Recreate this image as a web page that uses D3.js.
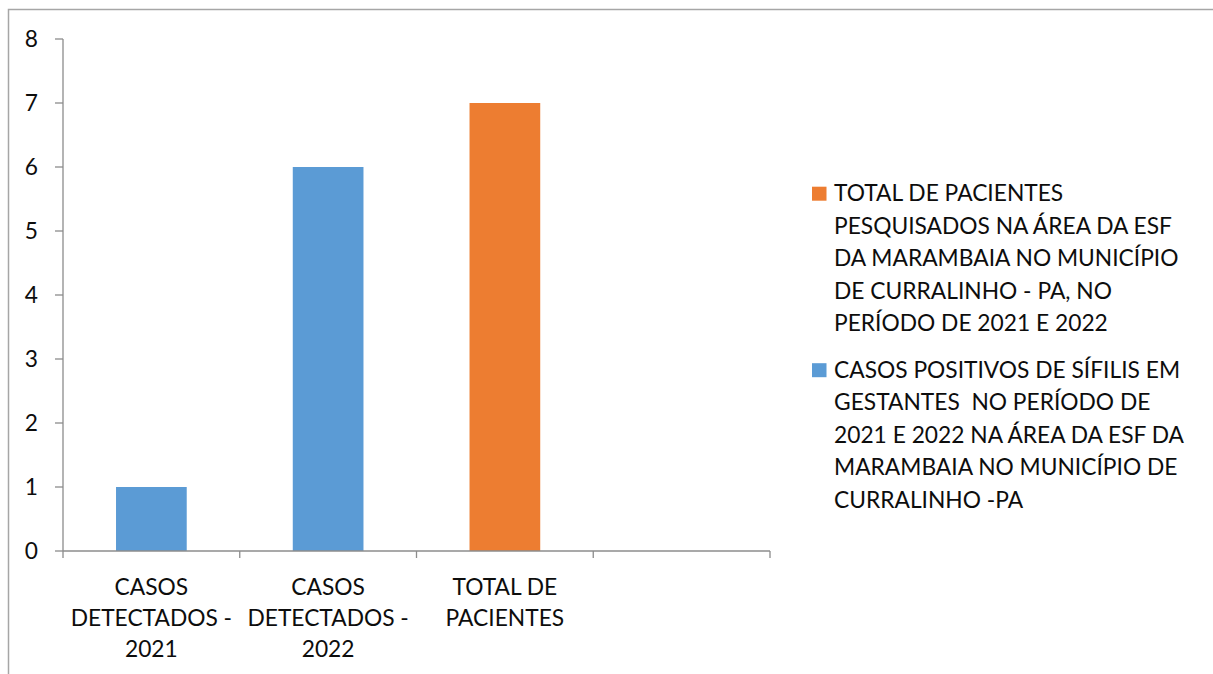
<!DOCTYPE html>
<html>
<head>
<meta charset="utf-8">
<script src="https://cdn.jsdelivr.net/npm/d3@7"></script>
<style>
  html, body { margin: 0; padding: 0; background: #fff; }
  svg { display: block; }
  text { font-family: Lato, "Open Sans", sans-serif; fill: #0d0d0d; white-space: pre; }
</style>
</head>
<body>
<svg id="chart" width="1213" height="674"></svg>
<script>
// ---- data ----
const categories = ["CASOS DETECTADOS - 2021", "CASOS DETECTADOS - 2022", "TOTAL DE PACIENTES", ""];
const categoryLabelLines = [
  ["CASOS", "DETECTADOS -", "2021"],
  ["CASOS", "DETECTADOS -", "2022"],
  ["TOTAL DE", "PACIENTES"],
  []
];
const values = [1, 6, 7, null];
const valueSeries = [1, 1, 0, null];   // index into seriesNames
const seriesNames = [
  "TOTAL DE PACIENTES PESQUISADOS NA ÁREA DA ESF DA MARAMBAIA NO MUNICÍPIO DE CURRALINHO - PA, NO PERÍODO DE 2021 E 2022",
  "CASOS POSITIVOS DE SÍFILIS EM GESTANTES  NO PERÍODO DE 2021 E 2022 NA ÁREA DA ESF DA MARAMBAIA NO MUNICÍPIO DE CURRALINHO -PA"
];
const seriesLegendLines = [
  ["TOTAL DE PACIENTES", "PESQUISADOS NA ÁREA DA ESF", "DA MARAMBAIA NO MUNICÍPIO", "DE CURRALINHO - PA, NO", "PERÍODO DE 2021 E 2022"],
  ["CASOS POSITIVOS DE SÍFILIS EM", "GESTANTES  NO PERÍODO DE", "2021 E 2022 NA ÁREA DA ESF DA", "MARAMBAIA NO MUNICÍPIO DE", "CURRALINHO -PA"]
];
const seriesColors = ["#ED7D31", "#5B9BD5"];
const yTicks = [0, 1, 2, 3, 4, 5, 6, 7, 8];

// ---- layout ----
const svg = d3.select("#chart");
const axisColor = "#8C8C8C";
const plot = { left: 63, right: 770, top: 39, bottom: 551 };

// font: match Calibri cap height, then compress horizontally to match Calibri widths
const capTarget = 16.7;
const fs = capTarget / 0.7165;
const probe = svg.append("text").attr("font-size", fs).text("PESQUISADOS NA ÁREA DA ESF");
const w = probe.node().getComputedTextLength();
probe.remove();
const kx = 338 / w;

function label(g, x0, y0, txt, anchor) {
  return g.append("text")
    .attr("transform", `translate(${x0},${y0}) scale(${kx},1)`)
    .attr("text-anchor", anchor || "start")
    .attr("font-size", fs)
    .text(txt);
}

// background + frame
svg.append("rect").attr("x", 0).attr("y", 0).attr("width", 1213).attr("height", 674).attr("fill", "#fff");
svg.append("rect").attr("x", 8.5).attr("y", 9.5).attr("width", 1220).attr("height", 700)
  .attr("fill", "none").attr("stroke", "#A6A6A6").attr("stroke-width", 1.5);

const y = d3.scaleLinear().domain([0, 8]).range([plot.bottom, plot.top]);
const x = d3.scaleBand().domain(categories.map((d, i) => i)).range([plot.left, plot.right])
  .paddingInner(0.6).paddingOuter(0.3);
const xb = d3.scaleLinear().domain([0, categories.length]).range([plot.left, plot.right]);

// bars
svg.append("g").selectAll("rect")
  .data(values.map((v, i) => ({ v, i, s: valueSeries[i] })).filter(d => d.v !== null))
  .join("rect")
  .attr("x", d => x(d.i))
  .attr("width", x.bandwidth())
  .attr("y", d => y(d.v))
  .attr("height", d => y(0) - y(d.v))
  .attr("fill", d => seriesColors[d.s]);

// y axis
const gy = svg.append("g");
gy.append("line").attr("x1", plot.left).attr("x2", plot.left)
  .attr("y1", y(8)).attr("y2", y(0)).attr("stroke", axisColor).attr("stroke-width", 1.3);
gy.selectAll("line.tick").data(yTicks).join("line").attr("class", "tick")
  .attr("x1", plot.left - 8).attr("x2", plot.left).attr("y1", d => y(d)).attr("y2", d => y(d))
  .attr("stroke", axisColor).attr("stroke-width", 1.3);
yTicks.forEach(t => label(gy, 38, y(t) + capTarget / 2, String(t), "end"));

// x axis
const gx = svg.append("g");
gx.append("line").attr("x1", plot.left).attr("x2", plot.right)
  .attr("y1", y(0)).attr("y2", y(0)).attr("stroke", axisColor).attr("stroke-width", 1.3);
gx.selectAll("line.tick").data(d3.range(categories.length + 1)).join("line").attr("class", "tick")
  .attr("x1", d => xb(d)).attr("x2", d => xb(d)).attr("y1", y(0)).attr("y2", y(0) + 7)
  .attr("stroke", axisColor).attr("stroke-width", 1.3);
categoryLabelLines.forEach((lines, i) => {
  const cx = x(i) + x.bandwidth() / 2;
  lines.forEach((ln, j) => label(gx, cx, 595 + j * 31, ln, "middle"));
});

// legend
const legendTop = [201, 377.5];
const lineH = 32.6;
const gl = svg.append("g");
seriesLegendLines.forEach((lines, s) => {
  gl.append("rect").attr("x", 812).attr("y", legendTop[s] - 14.3).attr("width", 14.5).attr("height", 14)
    .attr("fill", seriesColors[s]);
  lines.forEach((ln, j) => label(gl, 834, legendTop[s] + j * lineH, ln, "start"));
});
</script>
</body>
</html>
